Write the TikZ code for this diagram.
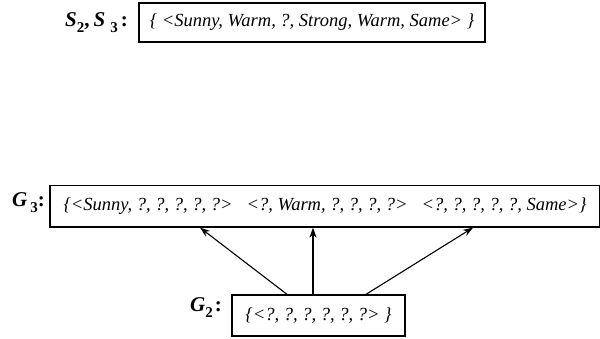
\documentclass[tikz,border=0pt]{standalone}
\usepackage{fontspec}
\setmainfont{Liberation Serif}
\usetikzlibrary{arrows.meta}
\newcommand{\lsub}[1]{\raisebox{-5.5pt}{\fontsize{15}{15}\selectfont\upshape\bfseries #1}}
\begin{document}
\begin{tikzpicture}[x=1pt,y=-1pt,
  setbox/.style={draw,line width=1.3pt,inner sep=0pt,font=\fontsize{18.5}{20}\selectfont\itshape},
  lab/.style={inner sep=0pt,font=\fontsize{21}{22}\selectfont\bfseries\itshape},
  arr/.style={-{Stealth[length=10pt,width=7pt]},line width=1.1pt}]
\useasboundingbox (0,0) rectangle (600,339);
\node[setbox,minimum width=346pt,minimum height=39pt] (S) at (312,22.5) {\{ <Sunny, Warm, ?, Strong, Warm, Same> \}};
\node[lab,anchor=base east] (Slab) at (128,27) {S\lsub{2}{\upshape,}\hspace{4pt}S\hspace{5pt}\lsub{3}\hspace{3pt}{\upshape:}};
\node[setbox,minimum width=550pt,minimum height=41.5pt] (G3) at (325,206.25) {\{<Sunny, ?, ?, ?, ?, ?>\hspace{14pt}<?, Warm, ?, ?, ?, ?>\hspace{14pt}<?, ?, ?, ?, ?, Same>\}};
\node[lab,anchor=base east] (G3lab) at (45,207) {G\hspace{3pt}\lsub{3}{\upshape:}};
\node[setbox,minimum width=173pt,minimum height=41pt] (G2) at (318.5,315.5) {\{<?, ?, ?, ?, ?, ?> \}};
\node[lab,anchor=base east] (G2lab) at (222,312) {G\lsub{2}\hspace{2pt}{\upshape:}};
\coordinate (a1) at (287,295); \coordinate (b1) at (200,227);
\coordinate (a2) at (313,295); \coordinate (b2) at (313,227);
\coordinate (a3) at (366,295); \coordinate (b3) at (473,227);
\draw[arr] (G2.north -| a1) -- (G3.south -| b1);
\draw[arr] (G2.north -| a2) -- (G3.south -| b2);
\draw[arr] (G2.north -| a3) -- (G3.south -| b3);
\end{tikzpicture}
\end{document}
